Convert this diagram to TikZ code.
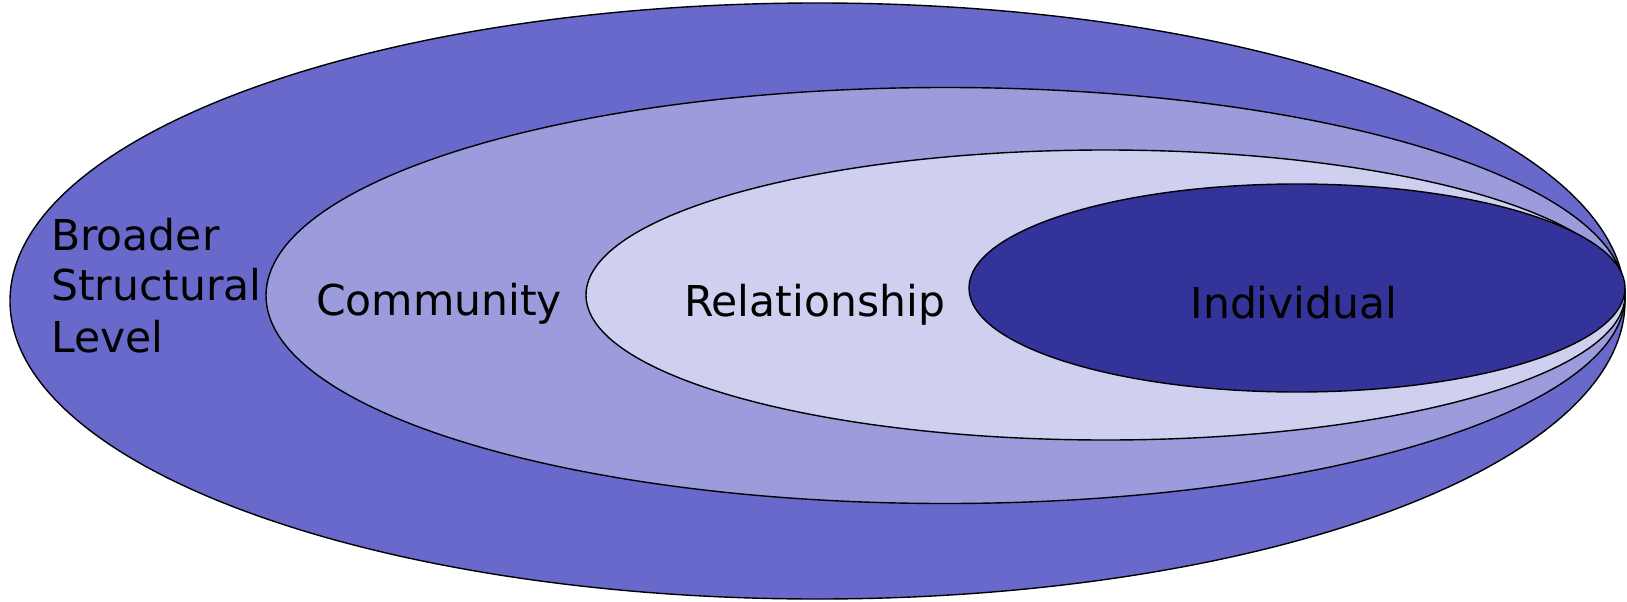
\documentclass[tikz,border=0pt]{standalone}
\usepackage{fontspec}
\setmainfont{DejaVu Sans}
\definecolor{cOuter}{RGB}{105,105,204}
\definecolor{cComm}{RGB}{156,156,220}
\definecolor{cRel}{RGB}{207,207,239}
\definecolor{cInd}{RGB}{51,51,153}
\begin{document}
\begin{tikzpicture}[x=1pt,y=-1pt,
  ring/.style={draw=black,line width=1.4pt},
  lbl/.style={font=\fontsize{42.5}{50}\selectfont,inner sep=0pt,text=black}]
\useasboundingbox (0,0) rectangle (1627,602);
\draw[ring,fill=cOuter] (817.5,301) ellipse [x radius=807.5pt, y radius=298pt];
\draw[ring,fill=cComm] (945.5,295.5) ellipse [x radius=679.5pt, y radius=208pt];
\draw[ring,fill=cRel] (1105.5,295) ellipse [x radius=519.5pt, y radius=145pt];
\draw[ring,fill=cInd] (1297,288) ellipse [x radius=328pt, y radius=104pt];
\node[lbl,anchor=base west] (b1) at (51,250) {Broader};
\node[lbl,anchor=base west] (b2) at (51,300) {Structural};
\node[lbl,anchor=base west] (b3) at (51,352) {Level};
\node[lbl,anchor=base] (comm) at (439,315) {Community};
\node[lbl,anchor=base] (rel) at (814.5,316) {Relationship};
\node[lbl,anchor=base] (ind) at (1294,318) {Individual};
\end{tikzpicture}
\end{document}
